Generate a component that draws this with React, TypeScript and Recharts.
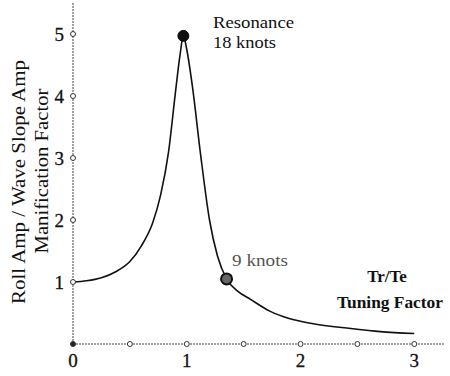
import React from "react";
import { LineChart, Line, XAxis, YAxis, ReferenceDot, Customized } from "recharts";

// Tr/Te tuning factor vs. roll magnification factor
const tuningFactor = [0, 0.12, 0.25, 0.38, 0.5, 0.6, 0.7, 0.77, 0.84, 0.9, 0.94, 0.97, 1.0, 1.05, 1.12, 1.2, 1.27, 1.35, 1.45, 1.56, 1.73, 1.9, 2.1, 2.44, 2.7, 3.0];
const magnification = [1.0, 1.02, 1.07, 1.17, 1.33, 1.58, 1.95, 2.4, 3.1, 4.05, 4.65, 4.97, 4.75, 4.15, 3.08, 2.0, 1.42, 1.05, 0.85, 0.72, 0.53, 0.41, 0.33, 0.25, 0.2, 0.17];

const xTicks = [0, 0.5, 1, 1.5, 2, 2.5, 3];
const yTicks = [0, 1, 2, 3, 4, 5];

const resonance = { x: 0.97, y: 4.97 };
const nineKnots = { x: 1.35, y: 1.05 };

const data = tuningFactor.map((x, i) => ({ x, y: magnification[i] }));

const serif = "'Liberation Serif', 'Times New Roman', serif";
const axisColor = "#444";
const ink = "#111";

const XTick = (props: any) => {
  const { x, y, payload } = props;
  const v = payload.value;
  return (
    <g>
      <circle cx={x} cy={y} r={2.5} fill={v === 0 ? "#222" : "#fff"} stroke="#333" strokeWidth={1} />
      {Number.isInteger(v) && (
        <text x={x} y={y + 23} textAnchor="middle" fontFamily={serif} fontSize={19} fill={ink} stroke={ink} strokeWidth={0.3}>
          {v}
        </text>
      )}
    </g>
  );
};

const YTick = (props: any) => {
  const { x, y, payload } = props;
  const v = payload.value;
  if (v === 0) return <g />;
  return (
    <g>
      <circle cx={x} cy={y} r={2.5} fill="#fff" stroke="#333" strokeWidth={1} />
      <text x={x - 9} y={y} dy="0.35em" textAnchor="end" fontFamily={serif} fontSize={19} fill={ink} stroke={ink} strokeWidth={0.3}>
        {v}
      </text>
    </g>
  );
};

const Annotations = () => (
  <g fontFamily={serif} fill={ink}>
    <text transform="translate(25,182) rotate(-90)" textAnchor="middle" fontSize={19}
      textLength={244} lengthAdjust="spacingAndGlyphs">
      Roll Amp / Wave Slope Amp
    </text>
    <text transform="translate(48,171) rotate(-90)" textAnchor="middle" fontSize={19}
      textLength={165} lengthAdjust="spacingAndGlyphs">
      Manification Factor
    </text>
    <text x={213} y={28} fontSize={17} textLength={81} lengthAdjust="spacingAndGlyphs">Resonance</text>
    <text x={213} y={48} fontSize={17} textLength={63} lengthAdjust="spacingAndGlyphs">18 knots</text>
    <text x={232} y={266} fontSize={17} fill="#555" textLength={56} lengthAdjust="spacingAndGlyphs">9 knots</text>
    <text x={387} y={282} textAnchor="middle" fontSize={17} fontWeight="bold">Tr/Te</text>
    <text x={390} y={308} textAnchor="middle" fontSize={17} fontWeight="bold" textLength={106} lengthAdjust="spacingAndGlyphs">
      Tuning Factor
    </text>
  </g>
);

export default function App() {
  return (
    <div style={{ width: 450, height: 376, background: "#fff" }}>
      <style>{`body{margin:0}`}</style>
      <LineChart width={450} height={376} data={data} margin={{ top: 3, right: 5, left: 0, bottom: 0 }}>
        <XAxis
          dataKey="x"
          type="number"
          domain={[0, 3.27]}
          ticks={xTicks}
          height={32}
          tickSize={0}
          tickMargin={0}
          tickLine={false}
          axisLine={{ stroke: axisColor, strokeWidth: 1, strokeDasharray: "2 1" }}
          tick={<XTick />}
          interval={0}
        />
        <YAxis
          type="number"
          domain={[0, 5.5]}
          ticks={yTicks}
          width={73}
          tickSize={0}
          tickMargin={0}
          tickLine={false}
          axisLine={{ stroke: axisColor, strokeWidth: 1, strokeDasharray: "2 1" }}
          tick={<YTick />}
          interval={0}
        />
        <Line
          type="monotone"
          dataKey="y"
          stroke={ink}
          strokeWidth={1.6}
          dot={false}
          isAnimationActive={false}
        />
        <ReferenceDot x={resonance.x} y={resonance.y} r={5.5} fill={ink} stroke={ink} />
        <ReferenceDot x={nineKnots.x} y={nineKnots.y} r={5.5} fill="#666" stroke={ink} strokeWidth={2} />
        <Customized component={Annotations} />
      </LineChart>
    </div>
  );
}
